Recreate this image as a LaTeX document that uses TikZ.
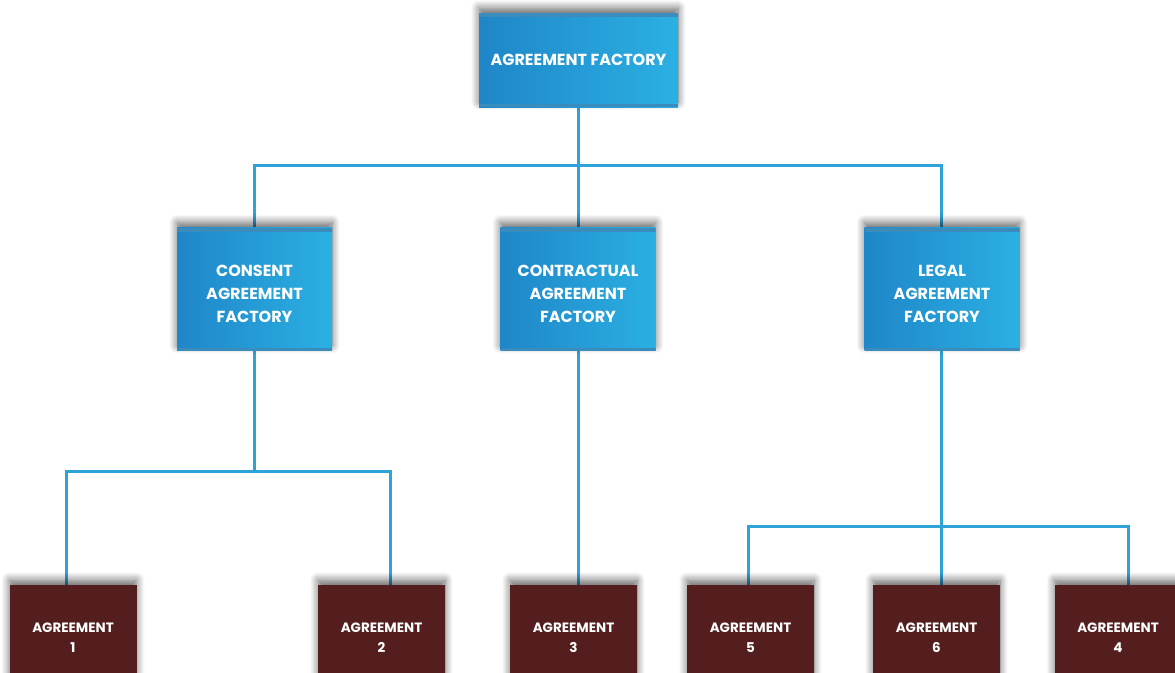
\documentclass[tikz,border=0pt]{standalone}
\usepackage{fontspec}
\newfontfamily\boxfont{Poppins}
\usetikzlibrary{shadows.blur,calc}
\definecolor{boxL}{HTML}{1F86C8}
\definecolor{boxR}{HTML}{2BB0E2}
\definecolor{boxstrip}{HTML}{3A8CBC}
\definecolor{wire}{HTML}{2DA3DA}
\definecolor{maroon}{HTML}{541E1E}
\newcommand{\lowgap}{\rule{0pt}{22pt}}
\tikzset{
  factory/.style={rectangle,left color=boxL,right color=boxR,text=white,
    font=\boxfont\bfseries\fontsize{16}{23}\selectfont,align=center,inner sep=0pt,
    blur shadow={shadow xshift=0pt,shadow yshift=5pt,shadow blur steps=10,shadow blur radius=8pt,shadow opacity=60},
    path picture={\fill[boxstrip] (path picture bounding box.north west) rectangle ([yshift=-4pt]path picture bounding box.north east);
      \fill[boxstrip] (path picture bounding box.south west) rectangle ([yshift=3pt]path picture bounding box.south east);}},
  deal/.style={rectangle,fill=maroon,text=white,minimum width=127pt,minimum height=105pt,
    font=\boxfont\bfseries\fontsize{13.5}{20}\selectfont,align=center,inner sep=0pt,
    blur shadow={shadow xshift=0pt,shadow yshift=5pt,shadow blur steps=10,shadow blur radius=8pt,shadow opacity=60}},
  wire/.style={draw=wire,line width=3pt}
}
\begin{document}
\begin{tikzpicture}[x=1pt,y=-1pt]
  \useasboundingbox (0,0) rectangle (1175,672);
  % connectors first, boxes on top
  \coordinate (j0) at (578,165);
  \coordinate (j1) at (254,471);
  \coordinate (j3) at (941,526);
  \path[wire] (578,106) -- (j0);
  \path[wire] (254,228) |- (j0) -| (941,228);
  \path[wire] (j0) -- (578,228);
  \path[wire] (254,350) -- (j1);
  \path[wire] (66,585) |- (j1) -| (390,585);
  \path[wire] (578,350) -- (578,585);
  \path[wire] (941,350) -- (941,585);
  \path[wire] (748,585) |- (j3) -| (1128,585);
  % upper boxes
  \node[factory,minimum width=199pt,minimum height=94pt](fac)at(578.5,60){AGREEMENT FACTORY};
  \node[factory,minimum width=155pt,minimum height=123pt](cons)at(254.5,289){\lowgap CONSENT\\AGREEMENT\\FACTORY};
  \node[factory,minimum width=155pt,minimum height=123pt](cont)at(578,289){\lowgap CONTRACTUAL\\AGREEMENT\\FACTORY};
  \node[factory,minimum width=155pt,minimum height=123pt](leg)at(942,289){\lowgap LEGAL\\AGREEMENT\\FACTORY};
  % agreements
  \node[deal](a1)at(73,637.5){AGREEMENT\\1};
  \node[deal](a2)at(381.5,637.5){AGREEMENT\\2};
  \node[deal](a3)at(573.5,637.5){AGREEMENT\\3};
  \node[deal](a5)at(750.5,637.5){AGREEMENT\\5};
  \node[deal](a6)at(936.5,637.5){AGREEMENT\\6};
  \node[deal](a4)at(1118,637.5){AGREEMENT\\4};
\end{tikzpicture}
\end{document}
